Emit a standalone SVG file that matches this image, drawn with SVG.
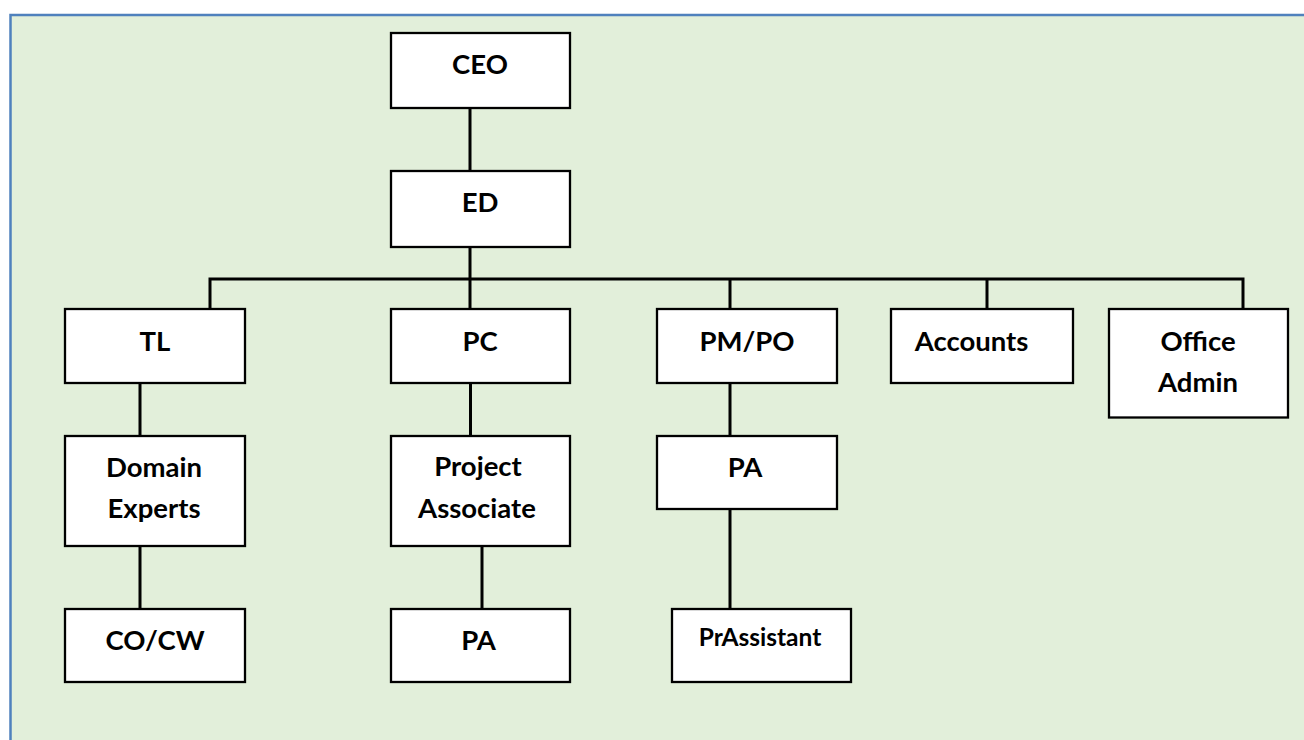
<svg xmlns="http://www.w3.org/2000/svg" width="1304" height="740" viewBox="0 0 1304 740">
<style>
.box{fill:#ffffff;stroke:#000000;stroke-width:2.3}
.lbl{font-family:Lato,"Open Sans","Liberation Sans",sans-serif;font-weight:bold;font-size:27.5px;fill:#000000;text-anchor:middle}
.sm{font-size:24.5px}
.con{fill:none;stroke:#000000;stroke-width:3;stroke-linejoin:miter;stroke-linecap:butt}
</style>
<rect x="0" y="0" width="1304" height="740" fill="#ffffff"/>
<rect x="10.5" y="15" width="1320" height="760" fill="#e2efda" stroke="#4f81bd" stroke-width="2.5"/>
<g id="connectors">
<path class="con" d="M470 108V171M470 247V309M210 309V279H1243V309M730 279V309M987 279V309M140 383V436M140 546V609M470.5 383V436M482 546V609M730 383V436M730 509V609"/>
</g>
<g id="ceo"><rect class="box" x="391" y="33" width="179" height="75"/><text class="lbl" x="480" y="74">CEO</text></g>
<g id="ed"><rect class="box" x="391" y="171" width="179" height="76"/><text class="lbl" x="480" y="212">ED</text></g>
<g id="tl"><rect class="box" x="65" y="309" width="180" height="74"/><text class="lbl" x="155" y="351">TL</text></g>
<g id="pc"><rect class="box" x="391" y="309" width="179" height="74"/><text class="lbl" x="480" y="351">PC</text></g>
<g id="pmpo"><rect class="box" x="657" y="309" width="180" height="74"/><text class="lbl" x="747" y="351">PM/PO</text></g>
<g id="accounts"><rect class="box" x="891" y="309" width="182" height="74"/><text class="lbl" x="971.5" y="351">Accounts</text></g>
<g id="officeadmin"><rect class="box" x="1109" y="309" width="179" height="108.5"/><text class="lbl" x="1198" y="351">Office</text><text class="lbl" x="1198" y="392">Admin</text></g>
<g id="domainexperts"><rect class="box" x="65" y="436" width="180" height="110"/><text class="lbl" x="154" y="477">Domain</text><text class="lbl" x="154" y="518">Experts</text></g>
<g id="projectassociate"><rect class="box" x="391" y="436" width="179" height="110"/><text class="lbl" x="478" y="476">Project</text><text class="lbl" x="477" y="518">Associate</text></g>
<g id="pa1"><rect class="box" x="657" y="436" width="180" height="73"/><text class="lbl" x="745" y="477">PA</text></g>
<g id="cocw"><rect class="box" x="65" y="609" width="180" height="73"/><text class="lbl" x="155" y="650">CO/CW</text></g>
<g id="pa2"><rect class="box" x="391" y="609" width="179" height="73"/><text class="lbl" x="478.5" y="650">PA</text></g>
<g id="prassistant"><rect class="box" x="672" y="609" width="179" height="73"/><text class="lbl sm" x="760" y="646">PrAssistant</text></g>
</svg>
